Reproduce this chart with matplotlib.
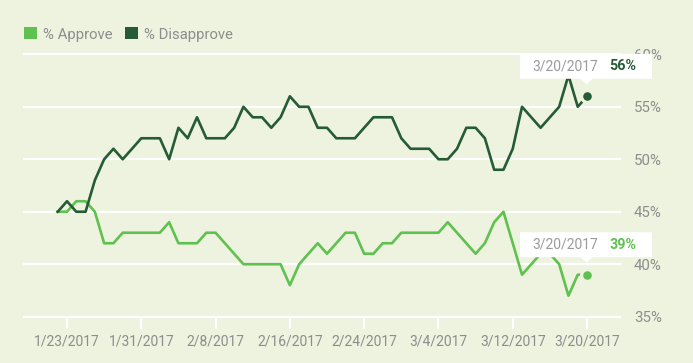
import matplotlib
matplotlib.use('Agg')
import matplotlib.pyplot as plt
import matplotlib.dates as mdates
import pandas as pd
from matplotlib.patches import Rectangle, Polygon
from matplotlib.transforms import IdentityTransform

plt.rcParams['font.family'] = ['Roboto', 'DejaVu Sans']

# ---------------- data ----------------
start_date = '2017-01-22'
end_date = '2017-03-20'
series_names = ['% Approve', '% Disapprove']
approve = [45, 45, 46, 46, 45, 42, 42, 43, 43, 43, 43, 43, 44, 42, 42, 42, 43, 43, 42, 41,
           40, 40, 40, 40, 40, 38, 40, 41, 42, 41, 42, 43, 43, 41, 41, 42, 42, 43, 43, 43,
           43, 43, 44, 43, 42, 41, 42, 44, 45, 42, 39, 40, 41, 41, 40, 37, 39, 39]
disapprove = [45, 46, 45, 45, 48, 50, 51, 50, 51, 52, 52, 52, 50, 53, 52, 54, 52, 52, 52, 53,
              55, 54, 54, 53, 54, 56, 55, 55, 53, 53, 52, 52, 52, 53, 54, 54, 54, 52, 51, 51,
              51, 50, 50, 51, 53, 53, 52, 49, 49, 51, 55, 54, 53, 54, 55, 58, 55, 56]
tick_dates = ['2017-01-23', '2017-01-31', '2017-02-08', '2017-02-16',
              '2017-02-24', '2017-03-04', '2017-03-12', '2017-03-20']
tick_labels = ['1/23/2017', '1/31/2017', '2/8/2017', '2/16/2017',
               '2/24/2017', '3/4/2017', '3/12/2017', '3/20/2017']
y_ticks = [35, 40, 45, 50, 55, 60]
y_tick_labels = ['35%', '40%', '45%', '50%', '55%', '60%']
last_label = '3/20/2017'

# ---------------- style ----------------
BG = '#edf3df'
LIGHT = '#5fc14f'
DARK = '#255c35'
GRAY = '#8d8d8d'
TIPGRAY = '#9b9b9b'

W, H = 693, 363
fig = plt.figure(figsize=(W / 100, H / 100), dpi=100)
fig.patch.set_facecolor(BG)
ax = fig.add_axes([24 / W, 1 - 316.7 / H, (620 - 24) / W, (316.7 - 54.3) / H])
ax.set_facecolor(BG)
for s in ax.spines.values():
    s.set_visible(False)

dates = pd.date_range(start_date, end_date, freq='D')
x = mdates.date2num(dates)
ax.set_xlim(x[0] - 3.63, x[0] + 60.55)
ax.set_ylim(35, 60)

for v in y_ticks:
    ax.axhline(v, color='white', lw=1.6, clip_on=False, zorder=1)

ax.yaxis.tick_right()
ax.set_yticks(y_ticks)
ax.set_yticklabels(y_tick_labels)
ax.tick_params(axis='y', length=0, pad=10, labelsize=10.8, labelcolor=GRAY)

ax.set_xticks(mdates.date2num(pd.to_datetime(tick_dates)))
ax.set_xticklabels(tick_labels)
ax.tick_params(axis='x', length=8.6, width=1.5, color='white', pad=4,
               labelsize=10, labelcolor=GRAY, direction='out')

# lines
ax.plot(x, approve, color=LIGHT, lw=1.9, zorder=3, clip_on=False)
ax.plot(x, disapprove, color=DARK, lw=1.9, zorder=3, clip_on=False)

# end dots with halo
ax.plot(x[-1], approve[-1], 'o', ms=8.5, mfc=LIGHT, mec=BG, mew=2.3, zorder=4, clip_on=False)
ax.plot(x[-1], disapprove[-1], 'o', ms=8.5, mfc=DARK, mec=BG, mew=2.3, zorder=4, clip_on=False)


def tooltip(xv, yv, color, value):
    px, py = ax.transData.transform((xv, yv))
    L, R = px - 67, px + 65
    B, T = py + 17.5, py + 42.5
    tip = py + 12
    pts = [(L, B), (px - 6.5, B), (px - 0.5, tip), (px + 5.5, B), (R, B), (R, T), (L, T)]
    ax.add_patch(Polygon(pts, closed=True, transform=IdentityTransform(),
                         facecolor='white', edgecolor='none', zorder=6, clip_on=False))
    ax.text(px - 55, py + 26, last_label, transform=IdentityTransform(), ha='left',
            va='baseline', fontsize=10, color=TIPGRAY, zorder=7, clip_on=False)
    ax.text(px + 22, py + 26, f'{value}%', transform=IdentityTransform(), ha='left',
            va='baseline', fontsize=10.3, fontweight='bold', color=color, zorder=7,
            clip_on=False)


tooltip(x[-1], disapprove[-1], DARK, disapprove[-1])
tooltip(x[-1], approve[-1], LIGHT, approve[-1])

# legend
for (lx, tx), name, col in zip([(24, 43), (125, 144)], series_names, [LIGHT, DARK]):
    fig.patches.append(Rectangle((lx / W, 1 - 39.3 / H), 12.7 / W, 12.7 / H,
                                 transform=fig.transFigure, facecolor=col, edgecolor='none'))
    fig.text(tx / W, 1 - 39.3 / H, name, ha='left', va='baseline', fontsize=10.7, color=GRAY)

fig.savefig('out.png', dpi=100, facecolor=BG)
